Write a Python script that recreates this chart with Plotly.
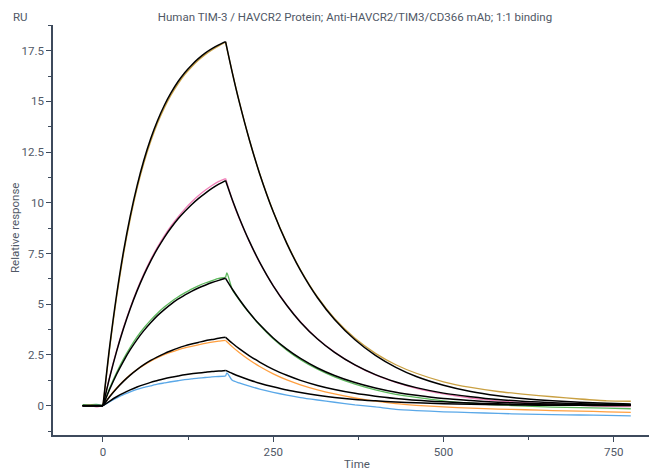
import plotly.graph_objects as go

# time grids (s)
t_fit = [-30, -20, -10, 0,
         10, 20, 30, 40, 50, 60, 70, 80, 90, 100, 110, 120, 130, 140, 150, 160, 170, 180,
         190, 200, 215, 230, 250, 270, 290, 315, 340, 370, 400, 430, 460, 500, 540, 580, 620, 660, 700, 740, 775]
t_data = [-30, -20, -10, 0,
          10, 20, 30, 40, 50, 60, 70, 80, 90, 100, 110, 120, 130, 140, 150, 160, 170, 180, 182,
          190, 200, 215, 230, 250, 270, 290, 315, 340, 370, 400, 430, 460, 500, 540, 580, 620, 660, 700, 740, 775]

# measured responses (RU)
data1 = [0.02, -0.02, 0.03, 0, 2.9, 5.35, 7.45, 9.2, 10.7, 11.96, 13.02, 13.92, 14.68, 15.32, 15.86, 16.32, 16.7, 17.03, 17.31, 17.54, 17.74, 17.92, 17.6,
         16.42, 15.0, 13.1, 11.45, 9.58, 8.02, 6.7, 5.36, 4.3, 3.32, 2.58, 2.02, 1.6, 1.18, 0.9, 0.7, 0.56, 0.44, 0.33, 0.24, 0.22]
data2 = [0, 0.03, -0.06, 0, 1.45, 2.72, 3.84, 4.83, 5.72, 6.5, 7.2, 7.82, 8.38, 8.87, 9.3, 9.69, 10.04, 10.35, 10.62, 10.86, 11.06, 11.2, 11.0,
         10.12, 9.24, 8.08, 7.06, 5.92, 4.96, 4.14, 3.3, 2.64, 2.0, 1.52, 1.15, 0.86, 0.58, 0.38, 0.24, 0.14, 0.07, 0.02, -0.03, -0.05]
data3 = [0.05, 0.04, 0.06, 0, 0.88, 1.64, 2.3, 2.88, 3.39, 3.83, 4.22, 4.56, 4.86, 5.13, 5.36, 5.56, 5.75, 5.91, 6.05, 6.17, 6.28, 6.32, 6.55,
         5.72, 5.22, 4.56, 3.98, 3.3, 2.74, 2.27, 1.8, 1.42, 1.06, 0.78, 0.56, 0.41, 0.24, 0.12, 0.04, -0.02, -0.07, -0.1, -0.12, -0.15]
data4 = [0, 0.02, 0, 0, 0.47, 0.87, 1.22, 1.52, 1.78, 2.0, 2.2, 2.37, 2.52, 2.64, 2.75, 2.85, 2.93, 3.0, 3.07, 3.13, 3.18, 3.22, 3.15,
         2.9, 2.62, 2.25, 1.93, 1.57, 1.27, 1.03, 0.78, 0.58, 0.38, 0.22, 0.1, 0.02, -0.06, -0.12, -0.17, -0.2, -0.24, -0.27, -0.30, -0.33]
data5 = [0, 0, 0.01, 0, 0.2, 0.38, 0.55, 0.68, 0.8, 0.9, 0.98, 1.06, 1.12, 1.18, 1.23, 1.28, 1.32, 1.36, 1.39, 1.42, 1.44, 1.46, 1.62,
         1.25, 1.12, 0.96, 0.82, 0.66, 0.52, 0.40, 0.28, 0.17, 0.04, -0.06, -0.18, -0.24, -0.3, -0.34, -0.38, -0.42, -0.44, -0.46, -0.48, -0.5]

# 1:1 binding fits (RU)
fit1 = [0, 0, 0, 0, 2.97, 5.47, 7.58, 9.35, 10.84, 12.10, 13.16, 14.05, 14.80, 15.43, 15.97, 16.42, 16.79, 17.11, 17.38, 17.60, 17.79, 17.95,
        16.40, 14.99, 13.10, 11.44, 9.56, 7.99, 6.67, 5.32, 4.25, 3.25, 2.48, 1.89, 1.44, 1.01, 0.70, 0.49, 0.34, 0.24, 0.17, 0.12, 0.08]
fit2 = [0, 0, 0, 0, 1.42, 2.68, 3.79, 4.78, 5.66, 6.44, 7.13, 7.74, 8.29, 8.77, 9.20, 9.57, 9.91, 10.21, 10.47, 10.71, 10.92, 11.10,
        10.14, 9.27, 8.10, 7.08, 5.91, 4.94, 4.12, 3.29, 2.63, 2.01, 1.53, 1.17, 0.89, 0.62, 0.44, 0.30, 0.21, 0.15, 0.10, 0.07, 0.05]
fit3 = [0, 0, 0, 0, 0.82, 1.55, 2.19, 2.76, 3.26, 3.70, 4.09, 4.44, 4.74, 5.01, 5.25, 5.45, 5.64, 5.80, 5.94, 6.07, 6.18, 6.28,
        5.74, 5.25, 4.58, 4.00, 3.34, 2.79, 2.33, 1.86, 1.49, 1.14, 0.87, 0.66, 0.51, 0.35, 0.25, 0.17, 0.12, 0.08, 0.06, 0.04, 0.03]
fit4 = [0, 0, 0, 0, 0.45, 0.85, 1.20, 1.51, 1.78, 2.02, 2.23, 2.41, 2.57, 2.71, 2.84, 2.95, 3.04, 3.12, 3.20, 3.26, 3.32, 3.37,
        3.08, 2.81, 2.46, 2.15, 1.79, 1.50, 1.25, 1.00, 0.80, 0.61, 0.47, 0.36, 0.27, 0.19, 0.13, 0.09, 0.06, 0.04, 0.03, 0.02, 0.02]
fit5 = [0, 0, 0, 0, 0.23, 0.44, 0.62, 0.78, 0.92, 1.04, 1.15, 1.24, 1.33, 1.40, 1.46, 1.52, 1.57, 1.61, 1.65, 1.69, 1.71, 1.74,
        1.59, 1.45, 1.27, 1.11, 0.93, 0.77, 0.65, 0.52, 0.41, 0.31, 0.24, 0.18, 0.14, 0.10, 0.07, 0.05, 0.03, 0.02, 0.02, 0.01, 0.01]

data_series = [data1, data2, data3, data4, data5]
fit_series = [fit1, fit2, fit3, fit4, fit5]
data_colors = ["#c9a042", "#f080b8", "#5cb85c", "#ff9f3f", "#5aa8e8"]

x_ticks = [0, 250, 500, 750]
y_ticks = [0, 2.5, 5, 7.5, 10, 12.5, 15, 17.5]
y_tick_labels = ["0", "2.5", "5", "7.5", "10", "12.5", "15", "17.5"]

title_text = "Human TIM-3 / HAVCR2 Protein; Anti-HAVCR2/TIM3/CD366 mAb; 1:1 binding"
x_title = "Time"
y_title = "Relative response"
unit_label = "RU"

FONT = "Roboto, Inter, 'Noto Sans', sans-serif"
TEXT = "#505866"
LINE = "#3d4a5c"
FS = 11.5

# the page body has an 8px margin, so the figure is placed at (8, 8) in the window
OFF = 8
W, H = 657 - OFF, 470 - OFF
# plot area in window pixels: left 53, right 657, top 25, bottom 435
ML, MR, MT = 53 - OFF, 0, 25 - OFF
MB = H - (435 - OFF)
PW, PH = W - ML - MR, H - MT - MB


def px_x(x):  # window px -> paper fraction
    return (x - OFF - ML) / PW


def px_y(y):
    return (H - MB - (y - OFF)) / PH


def segments(ts, ys):
    """Split a sensorgram into baseline, association and dissociation parts (at t=0 and the peak)."""
    i0 = ts.index(0)
    i1 = ts.index(180)
    return [(ts[:i0 + 1], ys[:i0 + 1]), (ts[i0:i1 + 1], ys[i0:i1 + 1]), (ts[i1:], ys[i1:])]


fig = go.Figure()
for ys, c in zip(data_series, data_colors):
    for sx, sy in segments(t_data, ys):
        fig.add_trace(go.Scatter(x=sx, y=sy, mode="lines",
                                 line=dict(color=c, width=1.3, shape="spline", smoothing=0.6),
                                 showlegend=False, hoverinfo="skip"))
for ys in fit_series:
    for sx, sy in segments(t_fit, ys):
        fig.add_trace(go.Scatter(x=sx, y=sy, mode="lines",
                                 line=dict(color="#000000", width=1.5, shape="spline", smoothing=0.8),
                                 showlegend=False, hoverinfo="skip"))

fig.update_layout(
    width=W, height=H,
    margin=dict(l=ML, r=MR, t=MT, b=MB, autoexpand=False),
    paper_bgcolor="white", plot_bgcolor="white",
    font=dict(family=FONT, size=FS, color=TEXT),
    title=dict(text=title_text, x=0.5, xref="paper", xanchor="center", y=1 - (17 - OFF) / H, yref="container",
               yanchor="middle", font=dict(size=FS, color=TEXT)),
    annotations=[
        dict(text=unit_label, xref="paper", yref="paper", x=px_x(11), xanchor="left",
             y=px_y(17), yanchor="middle", showarrow=False, font=dict(size=FS, color=TEXT)),
        dict(text=x_title, xref="paper", yref="paper", x=px_x(357), xanchor="center",
             y=px_y(464), yanchor="middle", showarrow=False, font=dict(size=FS, color=TEXT)),
        dict(text=y_title, xref="paper", yref="paper", x=px_x(15), xanchor="center",
             y=px_y(228), yanchor="middle", textangle=-90, showarrow=False,
             font=dict(size=FS, color=TEXT)),
    ],
)
fig.update_xaxes(range=[-73.4, 813.5], automargin=False, showgrid=False, zeroline=False, showline=True,
                 linecolor=LINE, linewidth=1.5,
                 ticks="outside", ticklen=5, tickcolor=LINE, tickvals=x_ticks,
                 minor=dict(ticks="outside", ticklen=3, tickcolor=LINE, tickvals=[125, 375, 625]),
                 tickfont=dict(size=FS, color=TEXT))
fig.update_yaxes(range=[-1.445, 18.77], automargin=False, showgrid=False, zeroline=False, showline=True,
                 linecolor=LINE, linewidth=1.5,
                 ticks="outside", ticklen=5, tickcolor=LINE, tickvals=y_ticks, ticktext=y_tick_labels,
                 minor=dict(ticks="outside", ticklen=3, tickcolor=LINE,
                            tickvals=[-1.25, 1.25, 3.75, 6.25, 8.75, 11.25, 13.75, 16.25, 18.75]),
                 tickfont=dict(size=FS, color=TEXT))

fig.write_html("out.html")
